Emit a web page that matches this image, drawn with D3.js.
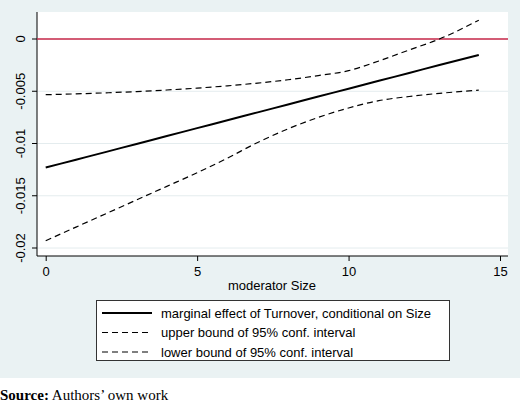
<!DOCTYPE html>
<html><head><meta charset="utf-8">
<script src="https://cdn.jsdelivr.net/npm/d3@7"></script>
<style>body{margin:0;background:#fff}svg{display:block}</style>
</head><body><svg id="c" width="520" height="406"></svg>
<script>
const xs = [0, 1, 2, 3, 4, 5, 6, 7, 8, 9, 10, 11, 12, 13, 14.3];
const effect = [-0.0123, -0.01155, -0.0108, -0.01004, -0.00929, -0.00853, -0.00778, -0.00702, -0.00627, -0.00551, -0.00476, -0.004, -0.00325, -0.00249, -0.00153];
const upper = [-0.00533, -0.00525, -0.00515, -0.00503, -0.00488, -0.00470, -0.00448, -0.00422, -0.0039, -0.0035, -0.00303, -0.0021, -0.00105, 0.0000, 0.0018];
const lower = [-0.0193, -0.0180, -0.0167, -0.0154, -0.0141, -0.0128, -0.0114, -0.0099, -0.0086, -0.0075, -0.0066, -0.0059, -0.0055, -0.0052, -0.0049];
const xTicks = [0, 5, 10, 15];
const yTicks = [0, -0.005, -0.01, -0.015, -0.02];
const yTickLabels = ["0", "-0.005", "-0.01", "-0.015", "-0.02"];
const legendLabels = ["marginal effect of Turnover, conditional on Size", "upper bound of 95% conf. interval", "lower bound of 95% conf. interval"];

const svg = d3.select("#c");
const F = "13px 'Liberation Sans',Arial";
svg.append("rect").attr("width",520).attr("height",378).attr("fill","#eaf2f3");
const L=37,R=508,T=12,B=256;
svg.append("rect").attr("x",L).attr("y",T).attr("width",R-L).attr("height",B-T).attr("fill","#fff");
const x = d3.scaleLinear().domain([0,15]).range([45.7,500]);
const y = d3.scaleLinear().domain([-0.02,0]).range([248,39]);
svg.selectAll(".g").data(yTicks).join("line").attr("x1",L).attr("x2",R)
  .attr("y1",d=>y(d)).attr("y2",d=>y(d)).attr("stroke","#e4ecee").attr("stroke-width",1);
const ya = svg.append("g").attr("transform",`translate(${L},0)`)
  .call(d3.axisLeft(y).tickValues(yTicks).tickFormat((d,i)=>yTickLabels[i]).tickSize(5).tickSizeOuter(0));
ya.select(".domain").attr("d",`M0,${T}V${B}`);
ya.selectAll(".tick").attr("transform","translate(0,0)");
ya.selectAll(".tick line").attr("y1",d=>y(d)).attr("y2",d=>y(d));
ya.selectAll("text").attr("transform","rotate(-90)").attr("dy","0").attr("text-anchor","middle")
  .style("font",F).attr("fill","#000").each(function(d){d3.select(this).attr("x",-y(d)).attr("y",-12);});
const xa = svg.append("g").attr("transform",`translate(0,${B})`)
  .call(d3.axisBottom(x).tickValues(xTicks).tickSize(5).tickSizeOuter(0));
xa.select(".domain").attr("d",`M${L},0H${R}`);
xa.selectAll("text").style("font",F).attr("fill","#000").attr("dy","0.95em");
svg.append("text").attr("x",272).attr("y",290).attr("text-anchor","middle").style("font",F).text("moderator Size");
svg.append("line").attr("x1",L).attr("x2",R).attr("y1",y(0)).attr("y2",y(0)).attr("stroke","#c8294a").attr("stroke-width",1.5);
const line = d3.line().x((d,i)=>x(xs[i])).y(d=>y(d)).curve(d3.curveMonotoneX);
svg.append("path").attr("d",line(upper)).attr("fill","none").attr("stroke","#000").attr("stroke-width",1.2).attr("stroke-dasharray","6,4");
svg.append("path").attr("d",line(lower)).attr("fill","none").attr("stroke","#000").attr("stroke-width",1.2).attr("stroke-dasharray","6,4");
svg.append("path").attr("d",line(effect)).attr("fill","none").attr("stroke","#000").attr("stroke-width",2);
svg.append("rect").attr("x",96.5).attr("y",300.5).attr("width",353).attr("height",60).attr("fill","#fff").attr("stroke","#333");
legendLabels.forEach((t,i)=>{
  const yy=313+i*19.5;
  svg.append("line").attr("x1",102).attr("x2",152).attr("y1",yy).attr("y2",yy).attr("stroke","#000")
    .attr("stroke-width",i==0?2:1.2).attr("stroke-dasharray",i==0?null:"6,4");
  svg.append("text").attr("x",161).attr("y",yy+4.5).style("font",F).text(t);
});
const st = svg.append("text").attr("x",0).attr("y",400).style("font","15px 'Liberation Serif','Times New Roman',serif");
st.append("tspan").attr("font-weight","bold").text("Source:");
st.append("tspan").text(" Authors’ own work");
</script></body></html>
